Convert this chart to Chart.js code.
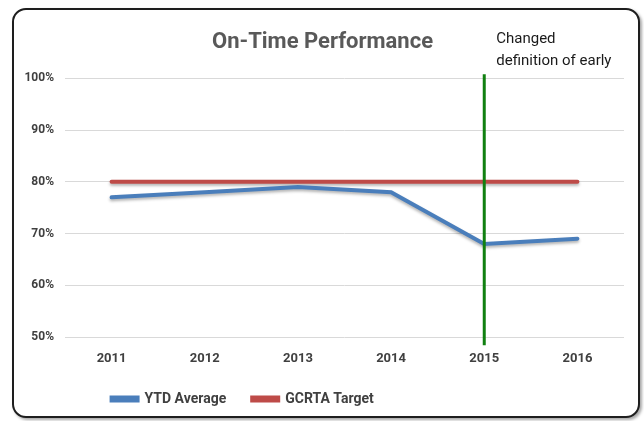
<!DOCTYPE html>
<html>
<head>
<meta charset="utf-8">
<script src="https://cdn.jsdelivr.net/npm/chart.js@4/dist/chart.umd.min.js"></script>
<style>
    html, body { margin: 0; padding: 0; background: #ffffff; }
    body { width: 644px; height: 421px; position: relative; overflow: hidden; }
    #frame {
        position: absolute; left: 12px; top: 8px; width: 624px; height: 406px;
        border: 2px solid #1e1e1e; border-radius: 14px; background: #fff;
        box-shadow: 2px 2px 3px rgba(0,0,0,0.35);
    }
    #chartBox { position: absolute; left: 0; top: 0; width: 624px; height: 406px; }
</style>
</head>
<body>
<div id="frame"><div id="chartBox"><canvas id="otpChart"></canvas></div></div>
<script>
// Dados do gráfico
const anos = ['2011', '2012', '2013', '2014', '2015', '2016'];
const ytdMedia = [77, 78, 79, 78, 68, 69];
const metaGcrta = [80, 80, 80, 80, 80, 80];
const anoMudanca = '2015';
const notaMudanca = ['Changed', 'definition of early'];

const fonte = "Roboto, 'Open Sans', sans-serif";
const legendaPadding = 26;

// Linha vertical verde + nota
const marcadorPlugin = {
    id: 'marcador',
    afterDatasetsDraw(chart) {
        const { ctx, scales } = chart;
        const x = scales.x.getPixelForValue(anos.indexOf(anoMudanca));
        const top = scales.y.getPixelForValue(100.8);
        const bottom = scales.y.getPixelForValue(48.4);
        ctx.save();
        ctx.strokeStyle = '#118011';
        ctx.lineWidth = 3;
        ctx.beginPath();
        ctx.moveTo(x, top);
        ctx.lineTo(x, bottom);
        ctx.stroke();
        ctx.fillStyle = '#1a1a1a';
        ctx.font = '15px ' + fonte;
        ctx.textBaseline = 'middle';
        ctx.fillText(notaMudanca[0], x + 12, 29);
        ctx.fillText(notaMudanca[1], x + 12, 51);
        ctx.restore();
    }
};

const sombraPlugin = {
    id: 'sombra',
    beforeDatasetsDraw(chart) {
        const ctx = chart.ctx;
        ctx.save();
        ctx.shadowColor = 'rgba(0,0,0,0.3)';
        ctx.shadowBlur = 3;
        ctx.shadowOffsetY = 2;
    },
    afterDatasetsDraw(chart) {
        chart.ctx.restore();
    }
};

// Legenda começa alinhada com a primeira categoria
const legendaPlugin = {
    id: 'legendaPos',
    beforeDraw(chart) {
        if (chart.legend) {
            chart.legend.left = chart.scales.x.getPixelForValue(0) - legendaPadding;
        }
    }
};

const ctx = document.getElementById('otpChart').getContext('2d');
new Chart(ctx, {
    type: 'line',
    data: {
        labels: anos,
        datasets: [{
            label: 'YTD Average',
            data: ytdMedia,
            borderColor: '#4a7ebb',
            backgroundColor: '#4a7ebb',
            borderWidth: 4,
            pointRadius: 0,
            tension: 0,
            borderCapStyle: 'round'
        }, {
            label: 'GCRTA Target',
            data: metaGcrta,
            borderColor: '#be4b48',
            backgroundColor: '#be4b48',
            borderWidth: 4,
            pointRadius: 0,
            tension: 0,
            borderCapStyle: 'round'
        }]
    },
    options: {
        responsive: true,
        maintainAspectRatio: false,
        animation: false,
        layout: { padding: { left: 7, right: 14, top: 8, bottom: 0 } },
        plugins: {
            title: {
                display: true,
                text: 'On-Time Performance',
                color: '#595959',
                font: { family: fonte, size: 22, weight: 'bold' },
                padding: { top: 11, bottom: 23 }
            },
            legend: {
                position: 'bottom',
                align: 'start',
                labels: {
                    color: '#404040',
                    font: { family: fonte, size: 14, weight: 'bold' },
                    boxWidth: 26,
                    boxHeight: 3,
                    padding: legendaPadding
                }
            },
            tooltip: { enabled: false }
        },
        scales: {
            x: {
                offset: true,
                grid: { display: false, drawTicks: false },
                border: { display: false },
                afterFit: s => { s.height = 29; },
                ticks: {
                    color: '#404040',
                    font: { family: fonte, size: 13, weight: 'bold' },
                    padding: 14
                }
            },
            y: {
                min: 50,
                max: 100,
                grid: { color: '#d9d9d9', drawTicks: false },
                border: { display: false },
                afterFit: s => { s.width = 44; },
                ticks: {
                    stepSize: 10,
                    color: '#404040',
                    padding: 11,
                    font: { family: fonte, size: 12, weight: 'bold' },
                    callback: v => v + '%'
                }
            }
        }
    },
    plugins: [sombraPlugin, marcadorPlugin, legendaPlugin]
});
</script>
</body>
</html>
